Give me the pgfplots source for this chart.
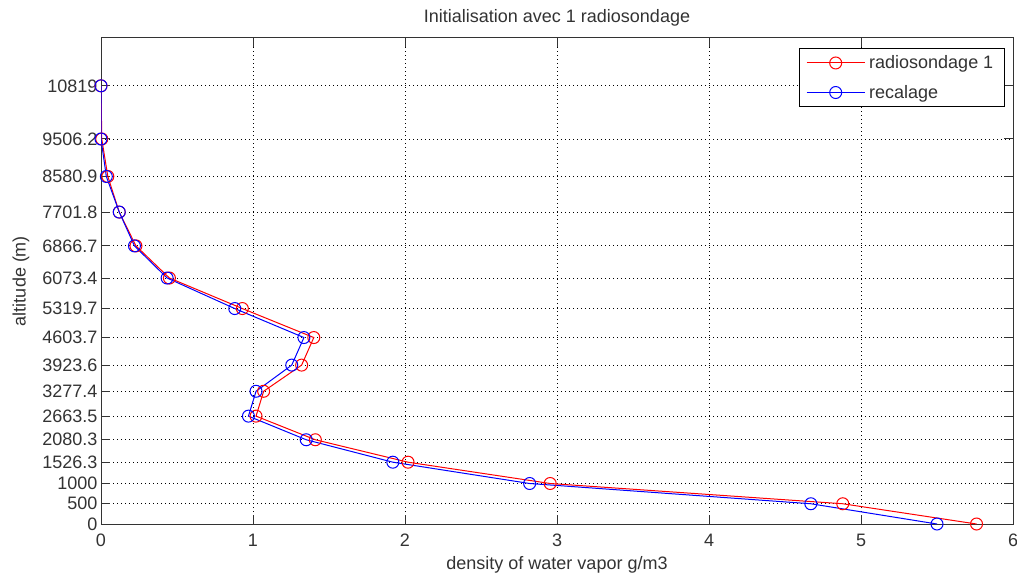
\documentclass[border=0pt]{standalone}
\usepackage{pgfplots}
\pgfplotsset{compat=1.18}
\usepackage{fontspec}
\setmainfont{Liberation Sans}
\begin{document}
\begin{tikzpicture}
\begin{axis}[
  scale only axis, width=912pt, height=486pt,
  xmin=0, xmax=6, ymin=0, ymax=12000,
  xtick={0,1,2,3,4,5,6},
  ytick={0,500,1000,1526.3,2080.3,2663.5,3277.4,3923.6,4603.7,5319.7,6073.4,6866.7,7701.8,8580.9,9506.2,10819},
  yticklabels={0,500,1000,1526.3,2080.3,2663.5,3277.4,3923.6,4603.7,5319.7,6073.4,6866.7,7701.8,8580.9,9506.2,10819},
  scaled y ticks=false,
  /pgf/number format/assume math mode=true,
  tick align=inside, tick pos=both, major tick length=9pt,
  grid=major,
  major grid style={black, line width=0.8pt, dash pattern=on 1pt off 3pt},
  axis line style={black!80, line width=1pt},
  every tick/.style={black!80, line width=1pt},
  tick label style={font=\fontsize{18}{20}\selectfont, text=black!80},
  xticklabel style={anchor=center, yshift=-16pt},
  yticklabel style={xshift=0pt},
  title={Initialisation avec 1 radiosondage},
  title style={font=\fontsize{18}{20}\selectfont, text=black!80, at={(axis description cs:0.5,1)}, anchor=center, yshift=14pt},
  xlabel={density of water vapor g/m3},
  ylabel={altitude (m)},
  label style={font=\fontsize{18}{20}\selectfont, text=black!80},
  xlabel style={at={(axis description cs:0.5,0)}, anchor=center, yshift=-41pt},
  ylabel style={at={(axis description cs:0,0.5)}, anchor=center, yshift=80pt},
  legend style={font=\fontsize{18}{20}\selectfont, draw=black, line width=1pt, at={(0.991,0.979)}, anchor=north east, inner xsep=7pt, inner ysep=5pt, row sep=11pt, text=black!80, nodes={inner xsep=4pt}},
  legend cell align=left,
  legend image code/.code={
    \draw[#1, mark repeat=2, mark phase=2] plot coordinates {(0pt,0pt) (29pt,0pt) (58pt,0pt)};
  },
]
\addplot[red, line width=1pt, mark=o, mark size=6pt, mark options={line width=1pt}] coordinates {
(5.76,0) (4.88,500) (2.955,1000) (2.02,1526.3) (1.41,2080.3) (1.02,2663.5) (1.07,3277.4) (1.32,3923.6) (1.40,4603.7) (0.93,5319.7) (0.45,6073.4) (0.23,6866.7) (0.12,7701.8) (0.045,8580.9) (0.005,9506.2) (0.0,10819)
};
\addlegendentry{radiosondage 1}
\addplot[blue, line width=1pt, mark=o, mark size=6pt, mark options={line width=1pt}] coordinates {
(5.50,0) (4.67,500) (2.82,1000) (1.92,1526.3) (1.35,2080.3) (0.97,2663.5) (1.02,3277.4) (1.255,3923.6) (1.335,4603.7) (0.88,5319.7) (0.435,6073.4) (0.22,6866.7) (0.12,7701.8) (0.035,8580.9) (0.0,9506.2) (0.0,10819)
};
\addlegendentry{recalage}
\end{axis}
\pgfresetboundingbox
\path[use as bounding box] ([shift={(-101pt,-54pt)}]current axis.south west) rectangle ([shift={(4pt,38pt)}]current axis.north east);
\end{tikzpicture}
\end{document}
